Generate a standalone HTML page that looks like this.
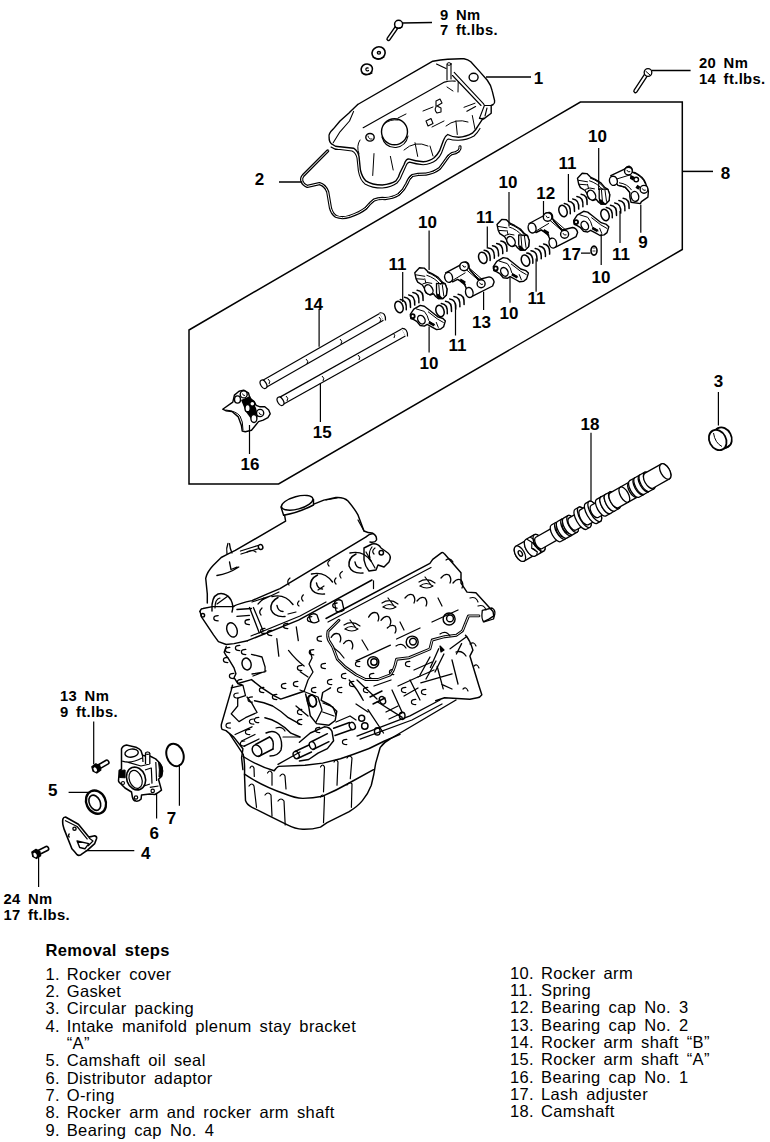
<!DOCTYPE html>
<html><head><meta charset="utf-8">
<style>
html,body{margin:0;padding:0;background:#fff;}
svg{display:block;}
text{font-family:"Liberation Sans",sans-serif;fill:#000;}
.lb{font-weight:bold;font-size:17px;}
.tq{font-weight:bold;font-size:14.8px;word-spacing:3px;letter-spacing:0.35px;}
.st{font-size:16.5px;word-spacing:3px;letter-spacing:0.38px;}
</style></head>
<body>
<svg width="770" height="1142" viewBox="0 0 770 1142">
<g id="text">
<text class="st" x="45.4" y="955.5" font-weight="bold">Removal steps</text>
<text class="st" x="45.4" y="979.5">1.</text><text class="st" x="66.7" y="979.5">Rocker cover</text>
<text class="st" x="45.4" y="996.8">2.</text><text class="st" x="66.7" y="996.8">Gasket</text>
<text class="st" x="45.4" y="1014.2">3.</text><text class="st" x="66.7" y="1014.2">Circular packing</text>
<text class="st" x="45.4" y="1031.5">4.</text><text class="st" x="66.7" y="1031.5">Intake manifold plenum stay bracket</text>
<text class="st" x="66.7" y="1048.8">“A”</text>
<text class="st" x="45.4" y="1066.2">5.</text><text class="st" x="66.7" y="1066.2">Camshaft oil seal</text>
<text class="st" x="45.4" y="1083.5">6.</text><text class="st" x="66.7" y="1083.5">Distributor adaptor</text>
<text class="st" x="45.4" y="1100.8">7.</text><text class="st" x="66.7" y="1100.8">O-ring</text>
<text class="st" x="45.4" y="1118.2">8.</text><text class="st" x="66.7" y="1118.2">Rocker arm and rocker arm shaft</text>
<text class="st" x="45.4" y="1135.5">9.</text><text class="st" x="66.7" y="1135.5">Bearing cap No. 4</text>

<text class="st" x="510" y="978.5">10.</text><text class="st" x="541" y="978.5">Rocker arm</text>
<text class="st" x="510" y="995.8">11.</text><text class="st" x="541" y="995.8">Spring</text>
<text class="st" x="510" y="1013.2">12.</text><text class="st" x="541" y="1013.2">Bearing cap No. 3</text>
<text class="st" x="510" y="1030.5">13.</text><text class="st" x="541" y="1030.5">Bearing cap No. 2</text>
<text class="st" x="510" y="1047.8">14.</text><text class="st" x="541" y="1047.8">Rocker arm shaft “B”</text>
<text class="st" x="510" y="1065.2">15.</text><text class="st" x="541" y="1065.2">Rocker arm shaft “A”</text>
<text class="st" x="510" y="1082.5">16.</text><text class="st" x="541" y="1082.5">Bearing cap No. 1</text>
<text class="st" x="510" y="1099.8">17.</text><text class="st" x="541" y="1099.8">Lash adjuster</text>
<text class="st" x="510" y="1117.2">18.</text><text class="st" x="541" y="1117.2">Camshaft</text>

<text class="tq" x="440" y="19.7">9 Nm</text>
<text class="tq" x="440" y="34.8">7 ft.lbs.</text>
<text class="tq" x="699" y="68.3">20 Nm</text>
<text class="tq" x="699" y="83.9">14 ft.lbs.</text>
<text class="tq" x="60" y="701.4">13 Nm</text>
<text class="tq" x="60" y="717">9 ft.lbs.</text>
<text class="tq" x="3.4" y="904.3">24 Nm</text>
<text class="tq" x="3.4" y="920">17 ft.lbs.</text>
</g>

<g id="labels" class="lb" text-anchor="middle">
<text x="538.5" y="83.8">1</text>
<text x="259.6" y="184.6">2</text>
<text x="718.4" y="387.3">3</text>
<text x="145.7" y="859">4</text>
<text x="52.8" y="795.7">5</text>
<text x="154.3" y="838.6">6</text>
<text x="171.4" y="824.3">7</text>
<text x="725.5" y="179">8</text>
<text x="643" y="247.5">9</text>
<text x="597.5" y="141.8">10</text>
<text x="567.4" y="168.8">11</text>
<text x="508" y="187.5">10</text>
<text x="545.7" y="199">12</text>
<text x="485" y="222.7">11</text>
<text x="427.5" y="227.7">10</text>
<text x="397.5" y="270.2">11</text>
<text x="571.5" y="260.2">17</text>
<text x="621" y="260">11</text>
<text x="601" y="282.7">10</text>
<text x="536.5" y="303.7">11</text>
<text x="509" y="318.7">10</text>
<text x="481.5" y="327.7">13</text>
<text x="457.5" y="351.2">11</text>
<text x="429" y="369.2">10</text>
<text x="313.6" y="309.5">14</text>
<text x="322.2" y="438">15</text>
<text x="250" y="470.2">16</text>
<text x="590" y="429.8">18</text>
</g>

<g id="cover" fill="none" stroke="#000" stroke-width="1.4" stroke-linejoin="round" stroke-linecap="round">
<!-- bolt and washers -->
<path d="M388.5,39 L396.5,27.5" stroke-width="4.4"/>
<path d="M388.5,39 L396.5,27.5" stroke="#fff" stroke-width="1.6"/>
<circle cx="398.6" cy="24.3" r="4" fill="#fff" stroke-width="1.5"/>
<path d="M395,27 Q398,29.5 402,27" stroke-width="1.2"/>
<ellipse cx="378.6" cy="52.9" rx="6.6" ry="6.1" transform="rotate(-20 378.6 52.9)" stroke-width="1.6"/>
<path d="M373,57 Q378,60.5 384,57" stroke-width="1.2"/>
<ellipse cx="378.9" cy="52.8" rx="1.6" ry="1.3" stroke-width="1.3"/>
<ellipse cx="366.8" cy="69.3" rx="5.7" ry="5.3" transform="rotate(-20 366.8 69.3)" stroke-width="1.6"/>
<path d="M362,73 Q367,76 372,73" stroke-width="1.2"/>
<path d="M368,68 Q365.5,67.5 366,70 Q367,71.5 368.5,70.5" stroke-width="1.3"/>
<!-- cover outline -->
<path d="M357.7,104.5 L432.8,61.2 Q450,58.5 464,58.8 Q468,59.5 470.8,61.7 L479.5,71.4 L487.3,80.2 Q491,85 492.2,90.9 L494.6,100.6 Q495,103.5 493.2,104.5 L491.2,105.5 L491.2,113.3 L483.4,119.1 L479.5,118.2"/>
<path d="M454.2,72.4 L483.4,103.6 L484.4,105.5 L491.2,105.5 M452.5,75.5 L481,105.5 M484.4,105.5 L479.5,118.2 M466.9,111.3 L475.6,106.5 M487,108 L485,116" stroke-width="1.1"/>
<path d="M357.7,104.5 Q352,110 349,113 L340,121 L333.2,129.1 Q328,134 329.1,137.3 Q329,142 331.8,144.1 Q335,147 340,146.8 L353.6,148.2 Q358,151 359,156.4 L360.4,170 Q362,177 365.9,180.9 Q372,185 382.3,185 Q391,184 395.9,180.9 Q399,177 400,172.7 L404.1,164.5 Q406,158 409.5,159.1 Q415,161 423.2,161.8 Q430,161 434.1,157.7 Q438,154 439.5,150.9 L443.6,140 Q445,136 447.7,134.5 Q452,137 458.6,137.3 Q466,137 472.3,133.2 Q476,130 477.7,126.4 L483.2,118.2"/>
<path d="M331,147 Q335,150 340,149.5 L352,151 Q356,153 357,158 L358.4,171 Q360,180 364.9,183.9 Q372,188 382.3,188 Q392,187 397,183 Q401,179 402,174.7 L405.5,167 Q407,162.5 409.5,162.1 Q416,164 423.2,164.8 Q431,164 436,160.2 Q440,157 441.5,153 L445.5,142.5 Q447,139 448.5,139 Q453,140.5 458.6,140.3 Q467,140 474,136 Q478,132 480,128.4" stroke-width="1.1"/>
<path d="M363.2,127.7 L444.5,82.1 Q450,80.5 455.2,81.2 M436.5,64 L446,68.5" stroke-width="1.2"/>


<path d="M353.6,111.4 L349.5,121 L340,131.8 L333.2,142.7" stroke-width="1.1"/>
<path d="M374,153.6 L372.7,175.5 M390.4,156.4 L393.2,170 M415,142.7 L417.7,156.4 M455.9,120.9 L457.3,134.5 M472.3,115.5 L475,129.1 M430,146 L433,156" stroke-width="1"/>
<path d="M404,150 Q415,140 428,146 M446,126 Q456,118 468,122 M360,140 Q356,146 359,154 M464,107.3 L475,103.2 M423,111 L433,107 M432,127 L444,121 M398,118 L406,114" stroke-width="1"/>
<circle cx="394.5" cy="131.8" r="13" fill="#fff"/>
<path d="M382,137 Q385,148 396,147.5 Q406,146 408,136" stroke-width="1.1"/>
<path d="M384,124 Q390,119 398,120" stroke-width="0.9"/>
<ellipse cx="370" cy="137.3" rx="4.2" ry="3.8"/>
<path d="M368,136 Q369,140 372,139" stroke-width="0.9"/>
<ellipse cx="473.6" cy="77.3" rx="4.5" ry="4"/>
<path d="M447,64.5 L447,80 M451,63.5 L451,79" stroke-width="1.1"/>
<ellipse cx="449" cy="64" rx="2" ry="1.3" stroke-width="1"/>
<path d="M447,87 L453,91 M458.2,82 L458,92" stroke-width="1"/>
<path d="M436,101 L440,99 L442,103 L437,106 L441,108 L441,112 L437,113 Q434,110 436,107 Z" stroke-width="1.1"/>
<path d="M426,121 L431,118.5 L433,123.5 L428,126 Z" stroke-width="1.1"/>
<!-- gasket -->
<path d="M327.7,150.9 L303.2,175.5 Q301,178 301.8,180.9 Q303,185 307.3,186.4 L319.5,183.6 Q325,185 327.7,191.8 L330.5,208.2 Q332,214 335.9,216.4 Q342,219 349.5,216.4 Q360,213 365.9,208.2 Q370,203 374,200 Q379,198 385,198.6 Q393,198 398.6,194.5 Q404,190 406.8,183.6 Q409,178 412.3,175.5 Q418,174 425.9,174.1 Q434,173 439.5,168.6 Q443,164 446.4,159.1 Q449,155 451.8,153.6 Q456,153 458.6,150.9 Q460.5,149 460,146.8" stroke-width="3.2"/>
<path d="M327.7,150.9 L303.2,175.5 Q301,178 301.8,180.9 Q303,185 307.3,186.4 L319.5,183.6 Q325,185 327.7,191.8 L330.5,208.2 Q332,214 335.9,216.4 Q342,219 349.5,216.4 Q360,213 365.9,208.2 Q370,203 374,200 Q379,198 385,198.6 Q393,198 398.6,194.5 Q404,190 406.8,183.6 Q409,178 412.3,175.5 Q418,174 425.9,174.1 Q434,173 439.5,168.6 Q443,164 446.4,159.1 Q449,155 451.8,153.6 Q456,153 458.6,150.9 Q460.5,149 460,146.8" stroke="#fff" stroke-width="1"/>
</g>
<defs>
<g id="ra1" fill="#fff" stroke="#000" stroke-width="1.4" stroke-linejoin="round" stroke-linecap="round">
<path d="M0,0 L4.7,-5 L9.4,-4.7 L12.9,-1.2 L17.6,1.1 L23.4,4.6 L27.5,9.3 L30.4,11.1 L32.2,16.3 L31.6,22.2 L28.1,25.7 L23.4,25.7 L20.5,23.3 L18.7,21 L15.2,22.2 L11.1,19.8 L9.4,15.2 L7.6,12.2 L2.9,9.3 L1.2,5.8 Z"/>
<ellipse cx="14" cy="16.9" rx="3.8" ry="5.2" transform="rotate(-30 14 16.9)"/>
<path d="M21.7,10.5 L30.4,11.1 L32.2,16.3 L31.6,22.2 L28.1,25.7 L23.4,25.7 L21.7,20 Z" stroke-width="1.3"/>
<path d="M24,12 L25,24 M27.5,12 L29,23" fill="none" stroke-width="1"/>
<path d="M21,22 L24,26 L28,25.5 L23.5,21 Z" fill="#000" stroke="none"/>
<path d="M12.9,-0.2 Q22,3 27,10 M12,2.5 Q20,5 25.5,11.5 M1,2 L10,3.5 M2,6 L9,6.5 M8,11 Q12,8.5 17,10.5 M10,6 L11,10" fill="none" stroke-width="1"/>
</g>
<g id="ra2" fill="#fff" stroke="#000" stroke-width="1.4" stroke-linejoin="round" stroke-linecap="round">
<path d="M0,0 L3.5,-5.2 L9.9,-9 L14,-8.2 L19.3,-4.1 L27.4,2.4 L32.7,4.1 L35.1,6.5 L33.3,12.3 L30.4,14.6 L26.3,15.2 L22.2,12.9 L16.9,10 L14,11.7 L9.9,11.1 L6.4,7 L3.5,5.3 L0.5,4.1 Z"/>
<circle cx="2.4" cy="1.8" r="2" stroke-width="1.8"/>
<ellipse cx="11.1" cy="5.3" rx="3.4" ry="4.6" transform="rotate(-30 11.1 5.3)"/>
<path d="M18,-2.5 L27,4.5 L33,8 M19,7 L24.5,10.5 M6,-5.5 L14,-3 Q17.5,1 18.5,6 M26,8 L28,13" fill="none" stroke-width="1"/>
<path d="M19,6.5 L24.5,9.5 L23.5,12 L18,9 Z" fill="#000" stroke="none"/>
</g>
<g id="spr" fill="none" stroke="#000" stroke-width="1.5" stroke-linecap="round">
<ellipse cx="0" cy="0" rx="4" ry="5.8" transform="rotate(-20)"/>
<path d="M1.3,-7.5 Q8,-7 7.3,2.7 M5.5,-9.8 Q12.2,-9.3 11.5,0.4 M9.7,-12.1 Q16.4,-11.6 15.7,-1.9 M13.9,-14.4 Q20.6,-13.9 19.9,-4.2 M18.1,-16.7 Q24.8,-16.2 24.1,-6.5"/>
</g>
<g id="cap" fill="#fff" stroke="#000" stroke-width="1.4" stroke-linejoin="round" stroke-linecap="round">
<path d="M-3,-4.5 L12,-12.5 Q14.5,-16 17.5,-15.5 Q21,-14.5 20.5,-9 L29.5,2.3 L40.5,-0.5 Q44.5,0 45.5,4.5 L44,8.6 L24,18.8 Q20,20.5 18,17 L17.5,10.5 L15,5 L9,2 L4,4.5 Z"/>
<ellipse cx="0" cy="0" rx="3.9" ry="5" transform="rotate(-15)"/>
<circle cx="15.5" cy="-11" r="4.3"/>
<path d="M14,-12 Q15,-9 17,-10.5" fill="none" stroke-width="1"/>
<path d="M18,-7.5 L30,2.8 M20.5,-9.5 L33,1.5 M21,-7 L31,2 M4,3 L16.5,-4.5 M9,2 L17,7" fill="none" stroke-width="1"/>
<circle cx="32.5" cy="6.3" r="4"/>
<path d="M31,5.5 Q32,8 34,7" fill="none" stroke-width="1"/>
<ellipse cx="20.7" cy="15.1" rx="3.7" ry="5" transform="rotate(-15 20.7 15.1)"/>
<path d="M12,1 L17,4 L16,8 L11,4 Z" fill="#000" stroke="none"/>
</g>
<g id="cap9" fill="#fff" stroke="#000" stroke-width="1.4" stroke-linejoin="round" stroke-linecap="round">
<path d="M-2.6,-5.2 L11.1,-11.7 Q14,-15 16,-14.5 Q19.5,-13 19,-8.5 L22,-8 Q30,-4 32,2 L35,10.4 L34.5,16.3 L28,20.8 L27,22.8 L17.6,21.5 Q16,16 16.3,11.7 L12,6.5 L4.6,4.6 Z"/>
<ellipse cx="0" cy="0" rx="3.9" ry="4.6" transform="rotate(-15)"/>
<circle cx="15" cy="-9.7" r="3.9"/>
<path d="M13.5,-10.5 Q14.5,-8 16.5,-9" fill="none" stroke-width="1"/>
<circle cx="30.6" cy="8.5" r="3.9"/>
<path d="M29,8 Q30,10.5 32,9.5" fill="none" stroke-width="1"/>
<ellipse cx="21.5" cy="15.6" rx="3.8" ry="5" transform="rotate(-15 21.5 15.6)"/>
<circle cx="22.8" cy="-1.3" r="2.3"/>
<path d="M4.6,4.6 Q12,5 16.3,11.7 M6,2 Q14,3 18,9 M4,-2 L17,-6 M19,-8.5 Q29,-5 32,3" fill="none" stroke-width="1"/>
<path d="M17,-6 L21,-4 L20,0 L16.5,-2 Z M24,4 L27,6 L25,9 L22,7 Z" fill="#000" stroke="none"/>
</g>
</defs>
<g id="boxparts">
<use href="#spr" x="563" y="211"/>
<use href="#spr" x="605" y="215"/>
<use href="#spr" x="482.8" y="257.8"/>
<use href="#spr" x="525.5" y="260.6"/>
<use href="#spr" x="399" y="307"/>
<use href="#spr" x="440" y="311"/>
<use href="#ra1" x="577.5" y="178.3"/>
<use href="#ra1" x="497" y="224.4"/>
<use href="#ra1" x="414.8" y="272.8"/>
<use href="#ra2" x="573.7" y="220.3"/>
<use href="#ra2" x="493.3" y="266.6"/>
<use href="#ra2" x="410.3" y="314.4"/>
<use href="#cap9" x="613.4" y="180.8"/>
<use href="#cap" x="532.1" y="228"/>
<use href="#cap" x="448.6" y="277.4"/>
<!-- lash adjuster -->
<ellipse cx="594" cy="250.6" rx="3" ry="4.5" fill="#fff" stroke="#000" stroke-width="1.6"/>
<path d="M592.5,248 L595.5,248 M592.5,251 L595.5,251" stroke="#000" stroke-width="0.8"/>
<!-- shafts -->
<g fill="none" stroke-linecap="butt">
<path d="M263.5,384.3 L381.5,316.8" stroke="#000" stroke-width="9"/>
<path d="M263.5,384.3 L381.5,316.8" stroke="#fff" stroke-width="6.6"/>
<path d="M280.5,401.3 L403.5,332.5" stroke="#000" stroke-width="9"/>
<path d="M280.5,401.3 L403.5,332.5" stroke="#fff" stroke-width="6.6"/>
</g>
<g fill="#fff" stroke="#000" stroke-width="1.2">
<ellipse cx="263.5" cy="384.3" rx="2.8" ry="4.6" transform="rotate(-30 263.5 384.3)"/>
<ellipse cx="280.5" cy="401.3" rx="2.8" ry="4.6" transform="rotate(-30 280.5 401.3)"/>
<path d="M379.5,312.8 Q386,312 385.5,320.5" fill="none"/>
<path d="M401.5,328.5 Q408,328 407.5,336.5" fill="none"/>
<path d="M268,379 Q271,381 269,384 M306,359 Q309,361 307,364 M340,339 Q343,341 341,344 M379,317 Q382,319 380,322 M286,396 Q289,398 287,401 M322,376 Q325,378 323,381 M358,355 Q361,357 359,360 M393,333 Q396,335 394,338" fill="none" stroke-width="1"/>
</g>
<!-- cap 16 -->
<g fill="#fff" stroke="#000" stroke-width="1.4" stroke-linejoin="round">
<path d="M222.7,409.2 L232.8,402.1 L234.4,395.1 L239,391.2 L243.7,390.1 L248.4,392.8 L250,398.2 L253.9,401.4 L256.2,405.3 L260.1,406.8 L264.8,406.8 L268.7,410 L270.2,413.8 L267.9,417.7 L263.2,420.1 L258.5,421.6 L255.4,425.5 L251.5,430.2 L245.3,431.8 L242.2,431 L241.4,425.5 L238.3,416.9 L232,411.5 L225.8,410.7 Z"/>
<path d="M225.8,410 Q236,411 240,416 Q243,421 243,430" fill="none" stroke-width="1"/>
<path d="M241,400 L250,396 L256,408 L258,416 L254,423 L246,412 Z" fill="#000" stroke="none"/>
<circle cx="243.7" cy="394.4" r="3.5"/>
<path d="M242.5,393.5 Q243,396 245,395.5" fill="none" stroke-width="0.9"/>
<ellipse cx="237.5" cy="399.5" rx="3" ry="3.6"/>
<circle cx="252.3" cy="403.7" r="2.5"/>
<ellipse cx="247.6" cy="408.2" rx="2.6" ry="3.6"/>
<circle cx="260.1" cy="413" r="3.6"/>
<path d="M259,412.5 Q259.5,415 261.5,414.5" fill="none" stroke-width="0.9"/>
<ellipse cx="253.9" cy="418.5" rx="3" ry="4"/>
</g>
</g>

<g id="cam" transform="translate(519.9 553.7) rotate(-29.5)" fill="#fff" stroke="#000" stroke-width="1.3" stroke-linejoin="round">
<path d="M0.0,-8.5 L12.0,-8.5 A4.5,8.5 0 0 1 12.0,8.5 L0.0,8.5 A4.5,8.5 0 0 1 0.0,-8.5 Z"/><ellipse cx="12.0" cy="0" rx="4.5" ry="8.5"/>
<ellipse cx="0" cy="0" rx="4.5" ry="8.5"/><ellipse cx="0.5" cy="0" rx="1.8" ry="3"/>
<path d="M12.0,-9.5 L22.0,-9.5 A4.5,9.5 0 0 1 22.0,9.5 L12.0,9.5 A4.5,9.5 0 0 1 12.0,-9.5 Z"/><ellipse cx="22.0" cy="0" rx="4.5" ry="9.5"/>
<path d="M13,-9.5 L16,-4 L13,1 L16,7 L14,9.5 M17,-9.5 L20,-4 L17,1 L20,7 L18,9.5" fill="none" stroke-width="1.1"/>
<path d="M16,-4 L18,-2 L17,1 Z M20,-4 L22,-2 L21,1 Z M13,1 L15,3 L16,7 Z" fill="#000" stroke-width="0.8"/>
<path d="M22.0,-6.5 L41.5,-6.5 A3.5,6.5 0 0 1 41.5,6.5 L22.0,6.5 A3.5,6.5 0 0 1 22.0,-6.5 Z"/><ellipse cx="41.5" cy="0" rx="3.5" ry="6.5"/>
<path d="M41.5,-9.5 L46.5,-9.5 A4.0,9.5 0 0 1 46.5,9.5 L41.5,9.5 A4.0,9.5 0 0 1 41.5,-9.5 Z"/><ellipse cx="46.5" cy="0" rx="4.0" ry="9.5"/>
<path d="M46.5,-6.5 L48.5,-6.5 A3.5,6.5 0 0 1 48.5,6.5 L46.5,6.5 A3.5,6.5 0 0 1 46.5,-6.5 Z"/><ellipse cx="48.5" cy="0" rx="3.5" ry="6.5"/>
<path d="M48.5,-9.5 L53.5,-9.5 A4.0,9.5 0 0 1 53.5,9.5 L48.5,9.5 A4.0,9.5 0 0 1 48.5,-9.5 Z"/><ellipse cx="53.5" cy="0" rx="4.0" ry="9.5"/>
<path d="M53.5,-6.5 L55.5,-6.5 A3.5,6.5 0 0 1 55.5,6.5 L53.5,6.5 A3.5,6.5 0 0 1 53.5,-6.5 Z"/><ellipse cx="55.5" cy="0" rx="3.5" ry="6.5"/>
<path d="M55.5,-9.5 L60.5,-9.5 A4.0,9.5 0 0 1 60.5,9.5 L55.5,9.5 A4.0,9.5 0 0 1 55.5,-9.5 Z"/><ellipse cx="60.5" cy="0" rx="4.0" ry="9.5"/>
<path d="M60.5,-7.0 L70.0,-7.0 A3.6,7.0 0 0 1 70.0,7.0 L60.5,7.0 A3.6,7.0 0 0 1 60.5,-7.0 Z"/><ellipse cx="70.0" cy="0" rx="3.6" ry="7.0"/>
<path d="M70.0,-11.5 L74.0,-11.5 A4.5,11.5 0 0 1 74.0,11.5 L70.0,11.5 A4.5,11.5 0 0 1 70.0,-11.5 Z"/><ellipse cx="74.0" cy="0" rx="4.5" ry="11.5"/>
<path d="M74.0,-8.5 L82.0,-8.5 A4.0,8.5 0 0 1 82.0,8.5 L74.0,8.5 A4.0,8.5 0 0 1 74.0,-8.5 Z"/><ellipse cx="82.0" cy="0" rx="4.0" ry="8.5"/>
<path d="M82.0,-11.5 L86.0,-11.5 A4.5,11.5 0 0 1 86.0,11.5 L82.0,11.5 A4.5,11.5 0 0 1 82.0,-11.5 Z"/><ellipse cx="86.0" cy="0" rx="4.5" ry="11.5"/>
<path d="M86.0,-7.0 L93.5,-7.0 A3.6,7.0 0 0 1 93.5,7.0 L86.0,7.0 A3.6,7.0 0 0 1 86.0,-7.0 Z"/><ellipse cx="93.5" cy="0" rx="3.6" ry="7.0"/>
<path d="M93.5,-9.5 L98.5,-9.5 A4.0,9.5 0 0 1 98.5,9.5 L93.5,9.5 A4.0,9.5 0 0 1 93.5,-9.5 Z"/><ellipse cx="98.5" cy="0" rx="4.0" ry="9.5"/>
<path d="M98.5,-9.5 L103.5,-9.5 A4.0,9.5 0 0 1 103.5,9.5 L98.5,9.5 A4.0,9.5 0 0 1 98.5,-9.5 Z"/><ellipse cx="103.5" cy="0" rx="4.0" ry="9.5"/>
<path d="M103.5,-9.5 L108.5,-9.5 A4.0,9.5 0 0 1 108.5,9.5 L103.5,9.5 A4.0,9.5 0 0 1 103.5,-9.5 Z"/><ellipse cx="108.5" cy="0" rx="4.0" ry="9.5"/>
<path d="M108.5,-8.5 L130.0,-8.5 A4.0,8.5 0 0 1 130.0,8.5 L108.5,8.5 A4.0,8.5 0 0 1 108.5,-8.5 Z"/><ellipse cx="130.0" cy="0" rx="4.0" ry="8.5"/>
<ellipse cx="120" cy="0" rx="4" ry="8.5" fill="none"/>
<path d="M131.5,-9.5 L136.5,-9.5 A4.0,9.5 0 0 1 136.5,9.5 L131.5,9.5 A4.0,9.5 0 0 1 131.5,-9.5 Z"/><ellipse cx="136.5" cy="0" rx="4.0" ry="9.5"/>
<path d="M137.5,-9.5 L142.5,-9.5 A4.0,9.5 0 0 1 142.5,9.5 L137.5,9.5 A4.0,9.5 0 0 1 137.5,-9.5 Z"/><ellipse cx="142.5" cy="0" rx="4.0" ry="9.5"/>
<path d="M143.5,-9.5 L148.5,-9.5 A4.0,9.5 0 0 1 148.5,9.5 L143.5,9.5 A4.0,9.5 0 0 1 143.5,-9.5 Z"/><ellipse cx="148.5" cy="0" rx="4.0" ry="9.5"/>
<path d="M148.5,-8.5 L167.0,-8.5 A4.5,8.5 0 0 1 167.0,8.5 L148.5,8.5 A4.5,8.5 0 0 1 148.5,-8.5 Z"/><ellipse cx="167.0" cy="0" rx="4.5" ry="8.5"/>
</g>
<g id="packing" fill="#fff" stroke="#000" stroke-width="1.8">
<ellipse cx="723" cy="437.5" rx="8.3" ry="10.6" transform="rotate(-28 723 437.5)"/>
<path d="M712.5,431.5 L718,428.5 M723.5,449 L729,446" stroke-width="1.5"/>
<ellipse cx="717.7" cy="440" rx="8.3" ry="10.6" transform="rotate(-28 717.7 440)"/>
<path d="M713.5,433 Q715,443 722,446.5" fill="none" stroke-width="1"/>
</g>
<g id="lowleft" fill="#fff" stroke="#000" stroke-width="1.5" stroke-linejoin="round">
<!-- bolt 13Nm -->
<g transform="translate(96.4 768.3) rotate(-30.0)">
<path d="M3,-2.1 L12.5,-2.1 Q14.0,-2.1 14.0,0 Q14.0,2.1 12.5,2.1 L3,2.1 Z" fill="#fff" stroke-width="1.6"/>
<path d="M-3.2,-3.6 L1.8,-4.2 L4.3,-0.5 L3,3.8 L-2,4.3 L-4.4,0.8 Z" fill="#000" stroke-width="1.2"/>
<ellipse cx="-1.6" cy="0.5" rx="1.5" ry="2.4" fill="#fff" stroke="none"/>
</g>
<!-- O-ring 7 -->
<ellipse cx="175" cy="754.9" rx="8.4" ry="11.5" transform="rotate(-18 175 754.9)" fill="none" stroke-width="2"/>
<!-- oil seal 5 -->
<ellipse cx="96" cy="802.1" rx="9.6" ry="12" transform="rotate(-25 96 802.1)" stroke-width="2.4"/>
<ellipse cx="94.8" cy="802.7" rx="5.4" ry="8" transform="rotate(-25 94.8 802.7)" stroke-width="1.6"/>
<!-- bracket 4 -->
<path d="M62.9,819 Q63.5,817 65.5,817 L78.4,824.2 L88.8,837.1 L94.7,835.8 Q97,836.5 96.6,838.4 L94.7,843.6 L87.5,850.1 L81,854.7 Q78.5,856 77.1,854.7 Q74,851 71.9,848.8 L64.2,829.4 Q62,823 62.9,819 Z" stroke-width="1.6"/>
<path d="M65,820.5 L77.1,826.5 L87.5,839.4 M89,838 L93,841 L88,846" fill="none" stroke-width="1.2"/>
<circle cx="74.5" cy="828.7" r="1.6" stroke-width="1.4"/>
<path d="M69.5,833.5 Q67.5,835.5 69.5,837.5" fill="none" stroke-width="1.2"/>
<path d="M77.1,841 L88.8,843.6 L84.9,848.8 L79.7,847.5 Z" stroke-width="1.4"/>
<!-- bolt 24Nm -->
<g transform="translate(36.3 853.8) rotate(-27.0)">
<path d="M3,-2.1 L12.0,-2.1 Q13.5,-2.1 13.5,0 Q13.5,2.1 12.0,2.1 L3,2.1 Z" fill="#fff" stroke-width="1.6"/>
<path d="M-3.2,-3.6 L1.8,-4.2 L4.3,-0.5 L3,3.8 L-2,4.3 L-4.4,0.8 Z" fill="#000" stroke-width="1.2"/>
<ellipse cx="-1.6" cy="0.5" rx="1.5" ry="2.4" fill="#fff" stroke="none"/>
</g>
<!-- distributor adaptor 6 -->
<path d="M121.5,748.7 Q123,745.5 126.5,745.1 L129.5,745.8 L136,747.3 Q140,749 141.1,750.9 L142.5,755.3 L145.5,756 L149.8,756 L155.6,758.9 L159.3,762.5 Q162.5,766 162.2,769.1 L161.5,776.4 L158.5,779.3 L161.5,790.2 L158.5,792.4 L154.9,794.5 L149.8,794 L141.5,795 L141.1,799 Q139,801.5 136,801.1 Q133,800.5 132.4,797 L131.5,792 L125,788 L121.5,784.4 Q118.5,782 118.5,780.7 L119.3,770.5 L121.5,769.1 Z" stroke-width="1.5"/>
<ellipse cx="131.6" cy="753.1" rx="6.7" ry="4" transform="rotate(-8 131.6 753.1)" stroke-width="1.4"/>
<path d="M122.2,761.1 Q131,764 142,758 M126.5,761.8 L141,766 L149.8,764 M142.5,755.3 L143,762" fill="none" stroke-width="1.2"/>
<path d="M119.3,770.5 L125.1,770 L125.1,777.8 L119.5,777.5 Z" fill="#000" stroke-width="1"/>
<ellipse cx="136" cy="778.5" rx="9.3" ry="11.6" transform="rotate(-20 136 778.5)" stroke-width="1.6"/>
<ellipse cx="135.6" cy="779.4" rx="6.2" ry="9.3" transform="rotate(-20 135.6 779.4)" stroke-width="1.2"/>
<path d="M145.5,764 L145.5,753.5 Q147.5,751.5 149.8,753.5 L149.8,764" stroke-width="1.3"/>
<ellipse cx="147.6" cy="753.2" rx="2.1" ry="1.2" stroke-width="1.1"/>
<path d="M158.5,761.8 Q163,766 162.9,771 L161.8,776.4 L159,777 Q160,770 158.5,761.8 Z" fill="#000" stroke-width="1"/>
<path d="M151.3,767.6 L152,783.6 M155.8,762 L156.6,781 M145,770 L151,768 M144,786 L150,784 M149.8,787.3 L158.5,786" fill="none" stroke-width="1.2"/>
<circle cx="136" cy="797.5" r="1.7" stroke-width="1.2"/>
<circle cx="152.7" cy="790.9" r="1.7" stroke-width="1.2"/>
<circle cx="123" cy="783" r="1.5" stroke-width="1.1"/>
</g>

<g id="engine" fill="none" stroke="#000" stroke-width="1.45" stroke-linejoin="round" stroke-linecap="round">
<!-- rear rocker cover -->
<path d="M207.3,603 L207.3,594 L205.7,578.3 Q207,572 213.1,565.5 L221.2,557.5 L227.2,554.4 L235.3,550.4 L285.6,521.2 L284.6,515.2"/>
<path d="M281,507 L283.6,515.2 Q298,513 313.5,505 L313.5,499.5"/>
<ellipse cx="297.2" cy="502.8" rx="16.2" ry="6.3" transform="rotate(-15 297.2 502.8)"/>
<path d="M313.8,504.1 L323.8,500.1 L335.9,497.5 Q344,497 348,501 Q354,508 357.8,514.6 L364,531 Q368,533 372,533 Q377,535 376.5,540 Q375,543 370,542"/>
<path d="M233.2,606.4 Q240,603 251.9,600.6 L267.5,593.9 L280,588.6 L365.7,537.1 Q369,534 373,533.5"/>
<path d="M252,602 L270,596 M262,600 L279,592" stroke-width="1.2"/>
<path d="M358,520 L364,531" stroke-width="1.2"/>
<path d="M326,500 L337,498" stroke-width="1.2"/>
<!-- breather & stud -->
<path d="M227.9,543.4 Q226,548 227,554 M229.5,543.6 Q230,549 232,553" stroke-width="1.3"/>
<path d="M240.5,551 L258,545.5 M241,554 L259,548.5" stroke-width="1.3"/>
<ellipse cx="260.6" cy="547" rx="2.2" ry="2.6" transform="rotate(-20 260.6 547)"/>
<path d="M247,552 Q251,549 256,552" stroke-width="1.2"/>
<path d="M229.5,562 L231,569.5 L237,567 M216.9,575.5 Q228,574 238.8,567" stroke-width="1.3"/>
<!-- cover end opening -->
<path d="M212,611 Q211,597 218,594 Q226,592 231,600 Q234,606 232,612"/>
<path d="M215,608 Q215,599 220,598 M217,604 L228,596" stroke-width="1.2"/>
<!-- rear head ports -->
<path d="M317.5,575.0 Q309.5,579.0 310.5,587.0 Q313.5,595.0 324.5,594.0 M311.5,574.0 Q324.5,571.0 332.5,582.0 M316.5,583.0 Q317.5,589.0 322.5,589.0 M278.0,597.5 Q270.0,601.5 271.0,609.5 Q274.0,617.5 285.0,616.5 M272.0,596.5 Q285.0,593.5 293.0,604.5 M277.0,605.5 Q278.0,611.5 283.0,611.5 M356.0,554.0 Q348.0,558.0 349.0,566.0 Q352.0,574.0 363.0,573.0 M350.0,553.0 Q363.0,550.0 371.0,561.0 M355.0,562.0 Q356.0,568.0 361.0,568.0 "/>
<path d="M303.4,594.8 Q300,598 303,601 M299,601 Q296,604 299,606 M342.3,571.4 Q338,574 341,578 M336,578 Q333,581 336,584 M262,608 Q258,612 261,615 M290,578 Q286,581 289,585 M330,560 Q326,563 329,566 M375,548 Q371,551 374,554" stroke-width="1.2"/>
<path d="M258,604 L264,598 M318,590 L324,586 M288,614 L296,612" stroke-width="1.2"/>
<!-- right end bracket of rear head -->
<path d="M364,548 L372,544 Q378,543 381,548 L388,553 Q392,556 389,562 L384,567 L378,565 L376,570 L369,571 Q365,566 364,560 Z"/>
<circle cx="381.3" cy="552.7" r="2.2"/>
<path d="M366,552 L375,568 M372,547 Q368,552 370,558" stroke-width="1.2"/>
<!-- rear head lower rails -->
<path d="M247.6,640.7 L298.5,620.1 L372,580"/>
<path d="M251,636 L300,616 L326,602" stroke-width="1.2"/>
<path d="M373.5,580.8 L373.5,588.6" stroke-width="1.2"/>
<path d="M334.5,602 Q338,598 342,601 L344,610 Q340,613 336,611 Z M309,616 Q313,612 317,615 L319,621 Q315,624 311,622 Z" stroke-width="1.3"/>
<!-- left end flange of rear head -->
<path d="M199.9,611.4 Q201,608.5 203,608.5 L212.5,606.6 L234,606.6"/>
<path d="M199.9,611.4 L201.8,617.3 L213.5,634.8 L218.4,641.6 L226.2,644.5 L234,643.6 L247.6,640.7"/>
<path d="M236.9,609.5 L251.5,608.5 M236.9,616.3 L249.5,615.3" stroke-width="1.3"/>
<path d="M249.5,607.5 L259.3,632.9 M253.4,607.5 L263.2,630.9" stroke-width="1.3"/>
<circle cx="202.8" cy="615.3" r="1.8"/>
<ellipse cx="232" cy="629.9" rx="5" ry="7.4" transform="rotate(-20 232 629.9)"/>
<path d="M249.4,619.5 Q245.0,619.5 245.0,622.1 Q245.0,624.7 249.4,624.7 M265.0,628.3 Q260.6,628.3 260.6,630.9 Q260.6,633.5 265.0,633.5 M218.2,615.6 Q213.8,615.6 213.8,618.2 Q213.8,620.8 218.2,620.8 M229.8,647.4 Q225.4,647.4 225.4,650.0 Q225.4,652.6 229.8,652.6 M233.8,673.4 Q229.4,673.4 229.4,676.0 Q229.4,678.6 233.8,678.6 M241.8,679.4 Q237.4,679.4 237.4,682.0 Q237.4,684.6 241.8,684.6 M263.8,687.4 Q259.4,687.4 259.4,690.0 Q259.4,692.6 263.8,692.6 M276.8,694.4 Q272.4,694.4 272.4,697.0 Q272.4,699.6 276.8,699.6 M227.8,657.4 Q223.4,657.4 223.4,660.0 Q223.4,662.6 227.8,662.6 M239.8,645.4 Q235.4,645.4 235.4,648.0 Q235.4,650.6 239.8,650.6 M245.8,649.4 Q241.4,649.4 241.4,652.0 Q241.4,654.6 245.8,654.6 M321.5,636.1 Q317.1,636.1 317.1,638.7 Q317.1,641.3 321.5,641.3 M313.7,649.7 Q309.3,649.7 309.3,652.3 Q309.3,654.9 313.7,654.9 M325.4,663.4 Q321.0,663.4 321.0,666.0 Q321.0,668.6 325.4,668.6 M311.8,616.6 Q307.4,616.6 307.4,619.2 Q307.4,621.8 311.8,621.8 M337.1,603.0 Q332.7,603.0 332.7,605.6 Q332.7,608.2 337.1,608.2 M271.8,630.4 Q267.4,630.4 267.4,633.0 Q267.4,635.6 271.8,635.6 M287.8,623.4 Q283.4,623.4 283.4,626.0 Q283.4,628.6 287.8,628.6 M285.8,683.4 Q281.4,683.4 281.4,686.0 Q281.4,688.6 285.8,688.6 M297.8,681.4 Q293.4,681.4 293.4,684.0 Q293.4,686.6 297.8,686.6 M315.8,687.4 Q311.4,687.4 311.4,690.0 Q311.4,692.6 315.8,692.6 M301.8,665.4 Q297.4,665.4 297.4,668.0 Q297.4,670.6 301.8,670.6 " stroke-width="1.3"/>
<!-- block face left -->
<path d="M226.2,646.5 L224.2,652.3 Q226,656 228.1,658.2 L234,667.9 L235.9,673.8 L234,677.7 L237.9,683.5 L251.5,679.6 L261.2,687.4 L272.9,695.2 L280.7,699.1 L290,696 L304.1,691.3"/>
<ellipse cx="246.6" cy="664" rx="4.5" ry="6" transform="rotate(-15 246.6 664)"/>
<path d="M251.5,654.3 L262,657 L265.1,667 L265,671.8 L252,674 M253,676 L266,671" stroke-width="1.3"/>
<path d="M276.8,638.7 L278.8,656.2 M296.3,627 L298.3,640.7 M288.5,650.4 Q296,660 304.1,666 M300.2,671.8 L308,677" stroke-width="1.3"/>
<path d="M310,650.4 L312,658 L309,664 L313,672 L308,680 L304.1,691.3" stroke-width="1.3"/>
<!-- timing cover -->
<path d="M232.5,685.2 L231.2,690.4 L221.4,724.2 Q221,728 222.1,729.4 L226,730.6 L233.8,737.1 L242.9,748.8 L241.6,757.9 L242.9,769.6"/>
<path d="M254.5,700.8 Q264,702 272.7,706 Q281,711 288.3,717.7 L300,724.2 M264.9,717.7 Q272,719 277.9,722.9 Q285,727 290.9,733.2 L300,737"/>
<path d="M231.2,687.8 L242.9,685.2 L245.5,695.6 L237.7,698.2 L237.7,706 L231.2,713.8 L239,721.6 L245.5,717.7 L257.1,712.5 L251.9,703.4 L247,697" stroke-width="1.3"/>
<path d="M235.1,734.5 L252,726.8 M241.6,741 L255,734.5 M244.2,746.2 L259,739" stroke-width="1.3"/>
<path d="M238.2,693.0 Q233.8,693.0 233.8,695.6 Q233.8,698.2 238.2,698.2 M252.4,696.9 Q248.0,696.9 248.0,699.5 Q248.0,702.1 252.4,702.1 M253.8,719.0 Q249.4,719.0 249.4,721.6 Q249.4,724.2 253.8,724.2 M258.8,717.4 Q254.4,717.4 254.4,720.0 Q254.4,722.6 258.8,722.6 M230.4,722.9 Q226.0,722.9 226.0,725.5 Q226.0,728.1 230.4,728.1 M249.8,729.4 Q245.4,729.4 245.4,732.0 Q245.4,734.6 249.8,734.6 M244.7,741.0 Q240.3,741.0 240.3,743.6 Q240.3,746.2 244.7,746.2 " stroke-width="1.2"/>
<ellipse cx="311.9" cy="701" rx="4.5" ry="6" transform="rotate(-15 311.9 701)"/>
<path d="M300,690 L318,697 L322,710 L316,722 M296,706 L308,716" stroke-width="1.3"/>
<path d="M278,764.4 L300,752" stroke-width="1.3"/>
<!-- crank snout -->
<path d="M266,733 Q274,729 279,735 Q283,742 281,750 Q278,756 270,756"/>
<path d="M255.5,744.5 L269.5,737 M258.5,756.5 L273,749"/>
<ellipse cx="257" cy="750.6" rx="4.4" ry="6" transform="rotate(-28 257 750.6)"/>
<path d="M269.5,737 Q274.5,739.5 273,749" />
<path d="M283,737 L300,737 M276,728 Q282,726 285,731" stroke-width="1.2"/>
<!-- accessory block lower middle -->
<path d="M305.6,694 L308.7,706.5 L310.3,715.8 L316.5,723.6 L329,725.2 L335.2,720.5 L336.8,711.2 L330,705 L321.2,700.3 L322.7,692.5 L330.5,687.8"/>
<ellipse cx="312.6" cy="701" rx="3.8" ry="5.8" transform="rotate(-15 312.6 701)"/>
<path d="M323,703 L333,707 L336,715 M322.7,712 L334,716" stroke-width="1.3"/>
<path d="M299.4,742.3 L310.3,733 L324.3,726.8 Q330,727 332,731.4 L333.6,740.8 L327.4,748.6 L318,753.2 L308.7,759.5 L299.4,761"/>
<path d="M295,751.5 L309,745 M297.5,758.5 L311.5,752"/>
<ellipse cx="296.2" cy="755" rx="2.8" ry="3.8" transform="rotate(-25 296.2 755)"/>
<path d="M311.8,741.5 L327.4,733.7 M313,749.5 L329,741.7"/>
<ellipse cx="312.4" cy="745.5" rx="2.8" ry="4" transform="rotate(-25 312.4 745.5)"/>
<path d="M333.6,728.3 L349.5,722.5 M335,735.5 L352,729.5"/>
<ellipse cx="352.3" cy="726" rx="2.8" ry="3.8" transform="rotate(-25 352.3 726)"/>
<path d="M336,722 L350,716 L356,720" stroke-width="1.3"/>
<circle cx="364.8" cy="726" r="3.2"/>
<circle cx="361.7" cy="718.2" r="3"/>
<path d="M349.2,680 Q358,690 363.2,700.3 M357,680 L377,699 M374,686 L391,680" stroke-width="1.3"/>
<path d="M370,697 L382,691 M373,704 L385,698"/>
<ellipse cx="382.5" cy="700.3" rx="2.8" ry="4" transform="rotate(-25 382.5 700.3)"/>
<path d="M368,709.6 L383.5,733 M377.3,701.8 L402.2,717.4 M356,704 L368,712" stroke-width="1.3"/>
<ellipse cx="377.3" cy="731.4" rx="2.8" ry="3.6"/>
<path d="M386,712 L398,706 M389,719 L402,713" stroke-width="1.3"/>
<ellipse cx="402.2" cy="715.8" rx="2.8" ry="3.6"/>
<path d="M392,690 L402,712 M398,686 L420,676 M404,696 L418,688" stroke-width="1.3"/>
<path d="M410,680 L420,700 M414,670 L432,662 M418,677 L434,670" stroke-width="1.3"/>
<path d="M420,675 L430,657 M426,679 L436,661 M438.7,648.8 L430.4,667.5 M443.9,654 L435,672" stroke-width="1.3"/>
<path d="M466.8,636.4 L450.1,648.8 M461.6,643.6 L456.4,654" stroke-width="1.3"/>
<path d="M357,736.1 L410,715.8 L440,700 M360.1,739.2 L412,720 L442,704" stroke-width="1.3"/>
<path d="M341.8,687.4 Q337.4,687.4 337.4,690.0 Q337.4,692.6 341.8,692.6 M353.8,681.4 Q349.4,681.4 349.4,684.0 Q349.4,686.6 353.8,686.6 M345.8,673.4 Q341.4,673.4 341.4,676.0 Q341.4,678.6 345.8,678.6 M331.8,679.4 Q327.4,679.4 327.4,682.0 Q327.4,684.6 331.8,684.6 M301.8,709.4 Q297.4,709.4 297.4,712.0 Q297.4,714.6 301.8,714.6 M319.8,727.4 Q315.4,727.4 315.4,730.0 Q315.4,732.6 319.8,732.6 M346.8,739.4 Q342.4,739.4 342.4,742.0 Q342.4,744.6 346.8,744.6 M367.8,687.4 Q363.4,687.4 363.4,690.0 Q363.4,692.6 367.8,692.6 M393.8,669.4 Q389.4,669.4 389.4,672.0 Q389.4,674.6 393.8,674.6 M409.8,661.4 Q405.4,661.4 405.4,664.0 Q405.4,666.6 409.8,666.6 M359.8,661.4 Q355.4,661.4 355.4,664.0 Q355.4,666.6 359.8,666.6 M373.8,673.4 Q369.4,673.4 369.4,676.0 Q369.4,678.6 373.8,678.6 M405.8,687.4 Q401.4,687.4 401.4,690.0 Q401.4,692.6 405.8,692.6 M415.8,699.4 Q411.4,699.4 411.4,702.0 Q411.4,704.6 415.8,704.6 M425.8,689.4 Q421.4,689.4 421.4,692.0 Q421.4,694.6 425.8,694.6 M301.8,719.4 Q297.4,719.4 297.4,722.0 Q297.4,724.6 301.8,724.6 " stroke-width="1.2"/>
<!-- front bank head -->
<path d="M326,618.5 L429.9,563.4 L432.7,559.3 L441.7,552.6 Q443,552 444.6,554.1 L461,572.7 L461,583.2 L467,592.1 L475.9,592.8 L493,611.4 L493.8,615.9 L489.3,618.9 L483.3,621.8"/>
<path d="M328,622 L431,567.5" stroke-width="1.2"/>

<!-- front head tube -->
<path d="M339,620.3 L328,631.2 Q327,637 328.8,640.5 L332.7,646.8 L337.4,659.2 L345.2,667 L356.1,674.8 L365.5,679.5 L377.9,679.5 L390.4,674.8 Q394,670 395,665.5 L396.6,659.2 L409.1,657.7 L429.9,649 L432.2,640 L444.6,636.7 L456.5,635.2 L462.5,630.8 L465.5,623.3 L468.5,615.9 L478.9,615.9" stroke-width="2.9"/>
<path d="M339,620.3 L328,631.2 Q327,637 328.8,640.5 L332.7,646.8 L337.4,659.2 L345.2,667 L356.1,674.8 L365.5,679.5 L377.9,679.5 L390.4,674.8 Q394,670 395,665.5 L396.6,659.2 L409.1,657.7 L429.9,649 L432.2,640 L444.6,636.7 L456.5,635.2 L462.5,630.8 L465.5,623.3 L468.5,615.9 L478.9,615.9" stroke="#fff" stroke-width="0.9"/>
<circle cx="373.2" cy="662.3" r="5.6"/><circle cx="374" cy="662" r="3.2"/>
<circle cx="412.2" cy="642.1" r="6"/><circle cx="413" cy="641.6" r="3.4"/>
<circle cx="449.1" cy="618.9" r="6"/><circle cx="450" cy="618.4" r="3.4"/>
<path d="M356.1,660.8 L390.4,645.2 M396.6,639 L420,628 M432,622 L458,610" stroke-width="1.3"/>
<!-- eyes -->
<path d="M345,629 Q351,624 358,629 Q352,633 345,629 M344,625 Q352,620 360,626 M350,620 L356,628 M383,607 Q389,602 396,607 Q390,611 383,607 M382,603 Q390,598 398,604 M388,598 L394,606 M420,586 Q426,581 433,586 Q427,590 420,586 M419,582 Q427,577 435,583 M425,577 L431,585" stroke-width="1.2"/>
<!-- cam bumps -->
<path d="M331.2,637.4 Q334,632 339,634 Q342,638 340,642 M343.6,643.6 Q347,639 351,641 Q354,645 352,649 M368.6,617.1 Q372,611 377,613 Q380,617 378,621 M381,620.3 Q385,615 389,617 Q392,621 390,625 M387.3,628 Q391,624 395,626 Q397,630 395,633 M405,598 Q409,593 413,595 Q416,599 414,603 M417,601 Q421,596 425,598 Q428,602 426,606 M441,578 Q445,573 449,575 Q452,579 450,583 M453,583 Q457,578 461,580 Q464,584 462,588" stroke-width="1.3"/>
<path d="M334,648 Q340,652 344,658 M396,646 Q402,642 406,648 M440,634 Q446,630 450,636 M362,640 L368,650 M400,622 L404,630 M438,598 L442,606" stroke-width="1.2"/>
<path d="M470,598 Q476,596 478,602 M478,606 Q484,604 486,610 M446,560 Q450,557 453,562" stroke-width="1.2"/>
<!-- front block right face -->
<path d="M465.5,635.2 Q470,640 472.9,650.1 Q471,654 469.9,656 L478.9,685.8 L481.8,694.8 Q480,697.5 477.4,697.7 L469.9,699.2 L444.6,697.7 L435.7,700.7"/>
<path d="M420.8,682.9 L452.1,673.9 M437.2,666.5 L443.2,688.8 M441.7,684.3 L452,689 M452,660 L458,684 M456,652 Q462,650 466,656" stroke-width="1.3"/>
<path d="M463,689 Q466,686 468,691 M474,666 Q477,663 479,668 M470,644 Q474,641 476,646" stroke-width="1.2"/>
<path d="M440,646 L444,650 L441,652 Z" fill="#000" stroke-width="1.2"/>
<path d="M482.3,610.4 L492,608 Q495.5,610 494.8,614 L493.5,619 L484,621.8 Q481,620 482.3,610.4 Z" stroke-width="1.3"/>
<!-- oil pan -->
<path d="M230,734.4 L243.2,754.3 Q245,762 244.5,775 L245.5,800.6 Q247,805 252,807.3 L269.7,816.1 L287.4,824.9 Q295,829 302.8,829.3 Q312,829.5 320.5,827.1 L327.1,822.7 L349.2,811.7 Q358,806 362.4,800.6 Q368,794 371.3,785.2 Q374,775 375.7,763.1 L380.1,747.7 Q384,742 390,739 L456,700"/>
<path d="M243.2,756.5 Q258,766 274.2,770.8 Q277,767 278.6,766.4 L305,765.3 L322.7,763.1 L340.4,758.7 L353.6,754.3 Q370,749 384.5,741 L400,734.4"/>
<path d="M244.5,774.2 Q262,786 285.2,794 Q295,798 302.8,798.4 Q313,798 322.7,796.2 Q337,790 349.2,783 L373.5,769.7"/>
<path d="M249,786 Q252,782 254,786 L256.5,807.3 M265,795 Q268,791 271,795 L272,816.1 M278,801 Q281,797 284,801 L285.2,824.9 M320.5,797 Q322.7,793 324.5,797 L323.5,822.7 M347,785 Q349.5,781 352,784 L351.4,807.3" stroke-width="1.2"/>
<path d="M250,768 Q252,764 254,768 L254.3,776.4 M267.5,773 Q270,769 272,773 L272,785.2 M280,776 Q283,772 285,776 L286,789 M320.5,767 Q322.7,763 324.5,767 L323.5,791.8 M334,762 Q336,758 338,762 L337,785.2 M347,758 Q349.5,754 352,758 L350.3,778.6" stroke-width="1.2"/>
</g>

<g id="bolt20" fill="#fff" stroke="#000" stroke-width="1.3">
<path d="M635.5,91 L646,75" stroke-width="4.6" fill="none" stroke-linecap="round"/>
<path d="M635.5,91 L646,75" stroke="#fff" stroke-width="2" fill="none" stroke-linecap="round"/>
<circle cx="648" cy="72.5" r="3.8"/>
<path d="M645.5,71 L650,75" stroke-width="1"/>
</g>
<g id="lines" fill="none" stroke="#000" stroke-width="1.5">
<path d="M189,330 L580.4,102.1 L682.3,102.1 L682.3,249.5 L278.6,484 L189,484 Z"/>
<path d="M402,22.9 L432,22.5"/>
<path d="M651.6,70.4 L690.6,70.4"/>
<path d="M486,77 L531,77"/>
<path d="M279,182 L302.3,182"/>
<path d="M682.3,171.4 L713,171.4"/>
<path d="M598.7,148 L598.7,190 M568.4,174 L568.4,201 M509,192 L509,226 M543.5,201 L543.5,217 M487.3,226.5 L487.3,248.5 M429.1,230.5 L429.1,270 M402.7,272 L402.7,302 M581,253.2 L590.5,253.2 M640.8,204.7 L640.8,232.7 M620,211 L620,243 M601.2,233.8 L601.2,265 M536.1,258.6 L536.1,291.8 M510,277.3 L510,302.7 M483.6,291.8 L483.6,310 M455.5,302.7 L455.5,335.5 M429.1,326.4 L429.1,352.5 M319.1,309.1 L319.1,346.8 M320.4,383.1 L320.4,422 M249.5,425 L249.5,454 M718.4,392 L718.4,425.5 M591,432.7 L591,501.8 M68.6,792.3 L88.6,792.3 M179.4,764.3 L179.4,805.7 M156.6,792.9 L156.6,818.6 M85.7,850.6 L134.3,850.6 M93.7,721.4 L93.7,764.3 M38.6,857 L38.6,887" stroke-width="1.2"/>

</g>
</svg>
</body></html>
